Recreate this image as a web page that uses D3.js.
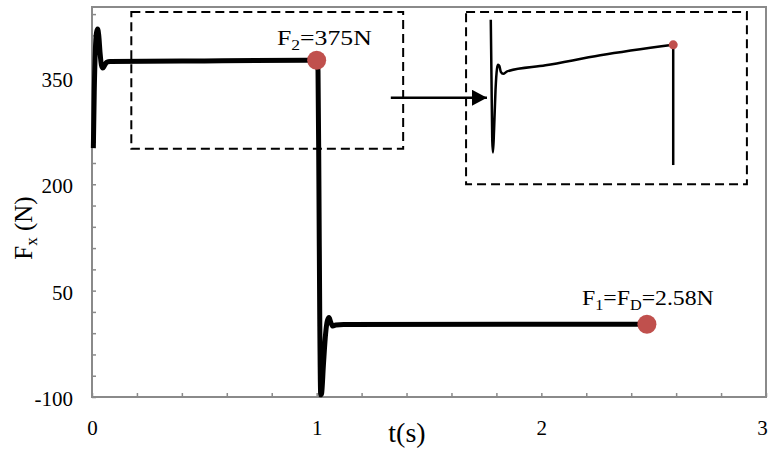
<!DOCTYPE html>
<html>
<head>
<meta charset="utf-8">
<script src="https://cdn.jsdelivr.net/npm/d3@7"></script>
<style>
  body { margin: 0; background: #fff; }
  text { font-family: 'Liberation Serif', 'Times New Roman', serif; fill: #000; }
</style>
</head>
<body>
<div id="chart"></div>
<script>
// force on the plate vs time, with a zoomed inset of the 0..1 s plateau

var time = [0.006, 0.01, 0.015, 0.02, 0.025, 0.03, 0.036, 0.042, 0.048, 0.055, 0.065, 0.08, 0.5, 1.0,
  1.006, 1.01, 1.014, 1.018, 1.022, 1.03, 1.04, 1.048, 1.055, 1.063, 1.072, 1.085, 1.12, 2.47];
var force = [251, 330, 390, 414, 419, 410, 385, 368, 364, 367, 372, 373, 374, 375,
  360, 200, 0, -97, -95, -55, -10, 8, 12, 5, 0, 1.5, 2.3, 2.58];

// inset (magnified, own scale)
var insetTime = [0, 0.004, 0.008, 0.012, 0.018, 0.026, 0.034, 0.04, 0.047, 0.055, 0.068, 0.09, 0.3, 0.6, 1.0];
var insetForce = [380, 368, 356, 353.5, 358, 366, 370.2, 371, 370.8, 369.6, 369.2, 369.7, 370.9, 372.9, 375];
var insetDrop = [375, 351];

var markerTime = [1.0, 2.47];
var markerForce = [375, 2.58];

var xTicks = d3.range(0, 3.001, 0.2);
var xLabels = [0, 1, 2, 3];
var yTicks = d3.range(-100, 451, 30);
var yLabels = [-100, 50, 200, 350];

var width = 770, height = 453;
var svg = d3.select('#chart').append('svg')
  .attr('width', width)
  .attr('height', height);

var x = d3.scaleLinear().domain([0, 3]).range([92, 766]);
var y = d3.scaleLinear().domain([-100, 450]).range([397, 7]);

var grey = '#8a8a8a';

svg.append('rect')
  .attr('x', x(0)).attr('y', y(450))
  .attr('width', x(3) - x(0)).attr('height', y(-100) - y(450))
  .attr('fill', 'none').attr('stroke', grey).attr('stroke-width', 2);

var yAxis = svg.append('g')
  .attr('transform', 'translate(' + x(0) + ',0)')
  .call(d3.axisLeft(y).tickValues(yTicks).tickSize(-4).tickPadding(19)
    .tickFormat(function(d) { return yLabels.indexOf(d) > -1 ? d : ''; }));
var xAxis = svg.append('g')
  .attr('transform', 'translate(0,' + y(-100) + ')')
  .call(d3.axisBottom(x).tickValues(xTicks).tickSize(-4).tickPadding(23)
    .tickFormat(function(d) {
      var r = Math.round(d * 10) / 10;
      return xLabels.indexOf(r) > -1 ? r : '';
    }));

[xAxis, yAxis].forEach(function(g) {
  g.select('.domain').remove();
  g.selectAll('line').attr('stroke', grey).attr('stroke-width', 1.5);
  g.selectAll('text')
    .attr('font-family', 'Liberation Serif, Times New Roman, serif')
    .attr('font-size', 21)
    .attr('fill', '#000');
});
yAxis.selectAll('text').attr('dy', '0.4em');
// last label sits on the window edge, nudge it in
xAxis.selectAll('text').filter(function(d) { return Math.round(d * 10) / 10 === 3; })
  .attr('x', -4);

// dashed boxes and arrow
svg.append('rect')
  .attr('x', x(0.175)).attr('y', y(443))
  .attr('width', x(1.385) - x(0.175)).attr('height', y(250) - y(443))
  .attr('fill', 'none').attr('stroke', '#000').attr('stroke-width', 2)
  .attr('stroke-dasharray', '9,5');
svg.append('rect')
  .attr('x', x(1.665)).attr('y', y(443))
  .attr('width', x(2.915) - x(1.665)).attr('height', y(200) - y(443))
  .attr('fill', 'none').attr('stroke', '#000').attr('stroke-width', 2)
  .attr('stroke-dasharray', '9,5');

svg.append('defs').append('marker')
  .attr('id', 'arrow')
  .attr('markerUnits', 'userSpaceOnUse')
  .attr('markerWidth', 16).attr('markerHeight', 16)
  .attr('refX', 15).attr('refY', 8)
  .attr('orient', 'auto')
  .append('path').attr('d', 'M0,0L15,8L0,16Z').attr('fill', '#000');

svg.append('line')
  .attr('x1', x(1.33)).attr('x2', x(1.758))
  .attr('y1', y(322)).attr('y2', y(322))
  .attr('stroke', '#000').attr('stroke-width', 2.5)
  .attr('marker-end', 'url(#arrow)');

// main curve
var pts = time.map(function(t, i) { return [t, force[i]]; });
var line = d3.line()
  .x(function(d) { return x(d[0]); })
  .y(function(d) { return y(d[1]); })
  .curve(d3.curveMonotoneX);

svg.append('path')
  .datum(pts)
  .attr('d', line)
  .attr('fill', 'none')
  .attr('stroke', '#000')
  .attr('stroke-width', 5)
  .attr('stroke-linejoin', 'round');

svg.selectAll('.mk')
  .data(markerTime)
  .enter().append('circle')
  .attr('class', 'mk')
  .attr('cx', function(d) { return x(d); })
  .attr('cy', function(d, i) { return y(markerForce[i]); })
  .attr('r', 9.5)
  .attr('fill', '#c0504d');

// inset
var ix = d3.scaleLinear().domain([0, 1]).range([x(1.775), x(2.587)]);
var iy = d3.scaleLinear().domain([349, 380]).range([y(213), y(432)]);
var ipts = insetTime.map(function(t, i) { return [t, insetForce[i]]; });

svg.append('path')
  .datum(ipts)
  .attr('d', d3.line()
    .x(function(d) { return ix(d[0]); })
    .y(function(d) { return iy(d[1]); })
    .curve(d3.curveMonotoneX))
  .attr('fill', 'none')
  .attr('stroke', '#000')
  .attr('stroke-width', 2.5);

svg.append('line')
  .attr('x1', ix(1)).attr('x2', ix(1))
  .attr('y1', iy(insetDrop[0])).attr('y2', iy(insetDrop[1]))
  .attr('stroke', '#000').attr('stroke-width', 2.5);

svg.append('circle')
  .attr('cx', ix(1)).attr('cy', iy(insetDrop[0]))
  .attr('r', 4.5).attr('fill', '#c0504d');

// labels
function stretch(sel, x0, w) {
  var bw = sel.node().getBBox().width;
  sel.attr('transform', 'translate(' + x0 + ',0) scale(' + (w / bw) + ',1) translate(' + (-x0) + ',0)');
}

var f2 = svg.append('text').attr('x', 277).attr('y', 45).attr('font-size', 22);
f2.append('tspan').text('F');
f2.append('tspan').attr('font-size', 15).attr('dy', 5).text('2');
f2.append('tspan').attr('dy', -5).text('=375N');
stretch(f2, 277, 95);

var f1 = svg.append('text').attr('x', 582).attr('y', 305).attr('font-size', 22);
f1.append('tspan').text('F');
f1.append('tspan').attr('font-size', 15).attr('dy', 5).text('1');
f1.append('tspan').attr('dy', -5).text('=F');
f1.append('tspan').attr('font-size', 15).attr('dy', 5).text('D');
f1.append('tspan').attr('dy', -5).text('=2.58N');
stretch(f1, 582, 132);

svg.append('text')
  .attr('x', 407).attr('y', 442)
  .attr('text-anchor', 'middle')
  .attr('font-size', 28)
  .text('t(s)');

var yt = svg.append('text')
  .attr('transform', 'translate(32,228) rotate(-90)')
  .attr('text-anchor', 'middle')
  .attr('font-size', 25);
yt.append('tspan').text('F');
yt.append('tspan').attr('font-size', 17).attr('dy', 5).text('x');
yt.append('tspan').attr('dy', -5).text(' (N)');
</script>
</body>
</html>
